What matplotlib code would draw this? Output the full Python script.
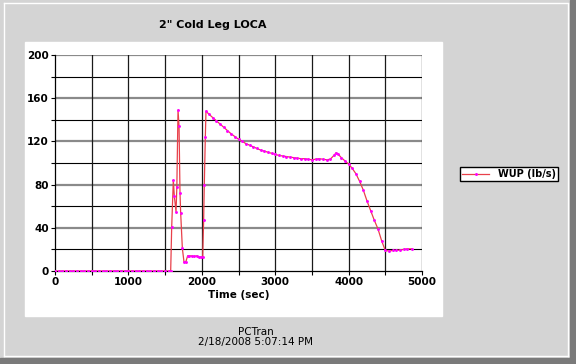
import matplotlib.pyplot as plt
from matplotlib.patches import Rectangle
from matplotlib.lines import Line2D

# WUP flow (lb/s) vs time (sec)
t_flat = [0, 50, 100, 150, 200, 250, 300, 350, 400, 450, 500, 550, 600, 650, 700, 750,
          800, 850, 900, 950, 1000, 1050, 1100, 1150, 1200, 1250, 1300, 1350, 1400, 1450,
          1500, 1550, 1576]
w_flat = [0] * len(t_flat)

t_spike = [1590, 1612, 1626, 1649, 1660, 1676, 1690, 1703, 1712, 1735, 1757, 1780, 1807,
           1830, 1860, 1890, 1929, 1960, 1990, 2012, 2025, 2034, 2048]
w_spike = [41, 84, 69, 55, 78, 149, 134, 72, 54, 21, 8.6, 8, 14,
           14, 14, 13.5, 14, 13, 13, 12.7, 47, 80, 124]

t_decay = [2057, 2100, 2150, 2200, 2250, 2300, 2350, 2400, 2450, 2500, 2550, 2600, 2650,
           2700, 2750, 2800, 2850, 2900, 2950, 3000, 3050, 3100, 3150, 3200, 3250, 3300,
           3350, 3400, 3450, 3500, 3550, 3600, 3650, 3700, 3750, 3800, 3830, 3860, 3900,
           3950, 4000, 4050, 4100, 4150, 4200, 4250, 4300, 4350, 4400, 4450, 4500, 4550,
           4600, 4650, 4700, 4750, 4800, 4860]
w_decay = [148, 145, 142, 139, 136, 133, 130, 127, 124.5, 122, 120, 118, 116.5,
           115, 113.5, 112, 111, 110, 109, 108, 107, 106.5, 106, 105.5, 105, 104.5,
           104, 104, 103.5, 103, 103.5, 104, 103.5, 103, 103.5, 107, 109.5, 108, 105,
           102, 99, 95, 90, 83, 75, 65, 56, 47, 39, 28, 19, 18.5,
           19, 19, 19.5, 20, 20.5, 20.5]

time = t_flat + t_spike + t_decay
wup = w_flat + w_spike + w_decay

bg = '#d4d4d4'
fig = plt.figure(figsize=(5.76, 3.64), dpi=100, facecolor=bg)

# window bevel
fig.add_artist(Rectangle((0, 0), 1, 6 / 364, transform=fig.transFigure, color='#7a7a7a', zorder=0))
fig.add_artist(Rectangle((570 / 576, 0), 6 / 576, 1, transform=fig.transFigure, color='#7a7a7a', zorder=0))
fig.add_artist(Line2D([4 / 576, 568 / 576], [8 / 364, 8 / 364], transform=fig.transFigure, color='white', lw=1))
fig.add_artist(Line2D([568 / 576, 568 / 576], [8 / 364, 360 / 364], transform=fig.transFigure, color='white', lw=1))
fig.add_artist(Line2D([4 / 576, 568 / 576], [361 / 364, 361 / 364], transform=fig.transFigure, color='white', lw=1))
fig.add_artist(Line2D([4 / 576, 4 / 576], [8 / 364, 361 / 364], transform=fig.transFigure, color='white', lw=1))

# white chart panel
fig.add_artist(Rectangle((25 / 576, 1 - 316 / 364), 417 / 576, 274 / 364,
                         transform=fig.transFigure, color='white', zorder=0))

ax = fig.add_axes([55 / 576, 1 - 271 / 364, 367 / 576, 216 / 364])
ax.set_facecolor('white')

for y in [20, 60, 100, 140, 180]:
    ax.axhline(y, color='black', lw=0.8, zorder=1)
for y in [40, 80, 120, 160, 200]:
    ax.axhline(y, color='#8a8a8a', lw=1.6, zorder=1)
for x in [500, 1000, 1500, 2000, 2500, 3000, 3500, 4000, 4500, 5000]:
    ax.axvline(x, color='#1a1a1a', lw=0.9, zorder=1)

ax.plot(time, wup, color='#e8404a', lw=0.9, marker='.', markersize=2.2,
        markerfacecolor='#ff00ff', markeredgecolor='#ff00ff', zorder=3,
        label='WUP (lb/s)')

ax.set_xlim(0, 5000)
ax.set_ylim(0, 200)
ax.set_xticks([0, 1000, 2000, 3000, 4000, 5000])
ax.set_yticks([0, 40, 80, 120, 160, 200])
ax.set_xticks([500, 1500, 2500, 3500, 4500], minor=True)
ax.set_yticks([20, 60, 100, 140, 180], minor=True)
ax.tick_params(which='both', direction='out', length=3, width=0.8, pad=1.5,
               labelsize=7.5)
for lbl in ax.get_xticklabels() + ax.get_yticklabels():
    lbl.set_fontweight('bold')
for s in ['top', 'right']:
    ax.spines[s].set_visible(False)
for s in ['left', 'bottom']:
    ax.spines[s].set_color('black')
    ax.spines[s].set_linewidth(0.9)

ax.set_xlabel('Time (sec)', fontsize=7.5, fontweight='bold', labelpad=2)

fig.text(213 / 576, 1 - 25 / 364, '2" Cold Leg LOCA', ha='center', va='center',
         fontsize=8, fontweight='bold')
fig.text(256 / 576, 1 - 337 / 364, 'PCTran\n2/18/2008 5:07:14 PM', ha='center',
         va='center', fontsize=7.5, linespacing=1.0)

leg = fig.legend(loc='center', bbox_to_anchor=(509 / 576, 1 - 174 / 364),
                 frameon=True, fancybox=False, fontsize=7, handlelength=2.8,
                 borderpad=0.2, handletextpad=0.9, borderaxespad=0, framealpha=1)
leg.get_frame().set_edgecolor('black')
leg.get_frame().set_facecolor('white')
leg.get_frame().set_linewidth(1.0)
for txt in leg.get_texts():
    txt.set_fontweight('bold')

fig.savefig('out.png', dpi=100, facecolor=bg)
